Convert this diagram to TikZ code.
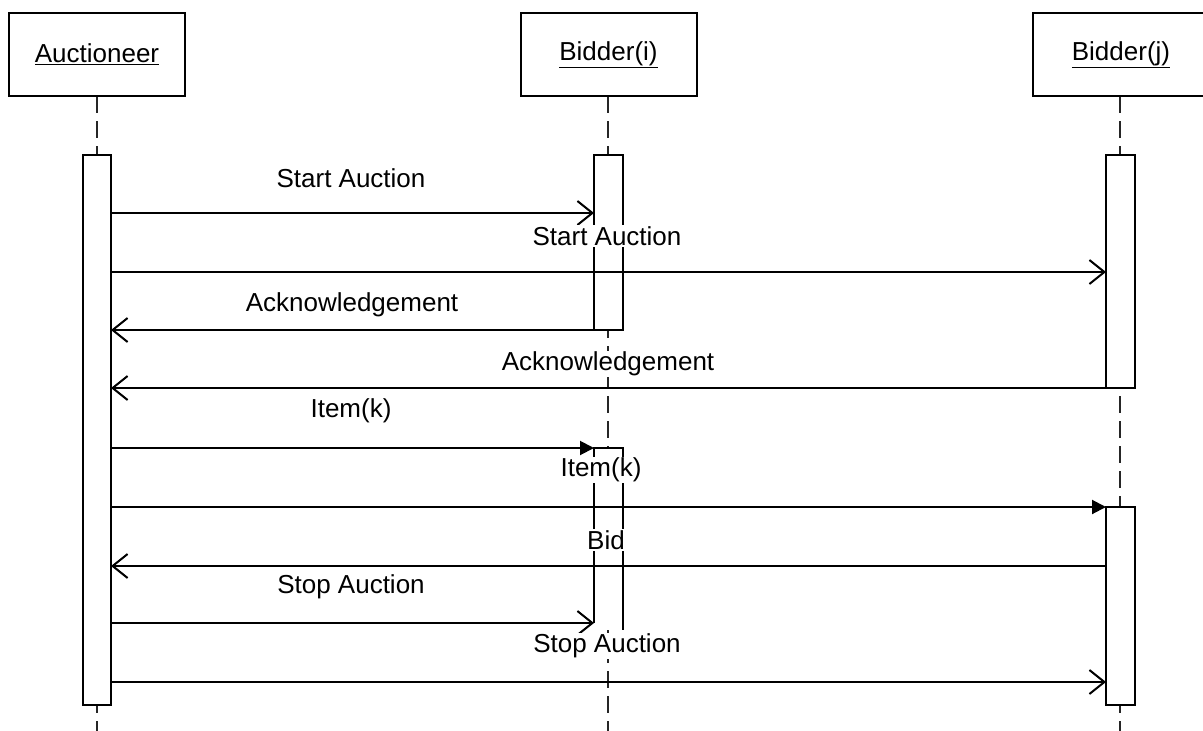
\documentclass[tikz,border=0pt]{standalone}
\usepackage{fontspec}
\setmainfont{Liberation Sans}
\usetikzlibrary{arrows.meta}
\begin{document}
\begin{tikzpicture}[x=1pt,y=-1pt,
  every node/.style={font=\fontsize{26}{30}\selectfont, inner sep=1pt},
  headbox/.style={draw, line width=2pt, minimum width=176pt, minimum height=83pt, fill=white},
  lifeline/.style={draw=black!85, line width=2pt, dash pattern=on 17pt off 8pt},
  actbar/.style={draw, line width=2pt, fill=white},
  msg/.style={line width=2pt, -{Straight Barb[length=15pt,width=24pt,line width=2pt]}},
  call/.style={line width=2pt, -{Triangle[length=14pt,width=14pt]}},
  lbl/.style={fill=white, inner sep=1pt}]
\useasboundingbox (0,0) rectangle (1203,731);
\clip (0,0) rectangle (1203,731);
\fill[white] (0,0) rectangle (1203,731);

% lifelines
\coordinate (la0) at (97,96);  \coordinate (la1) at (97,731);
\coordinate (li0) at (608,96); \coordinate (li1) at (608,731);
\coordinate (lj0) at (1120,96); \coordinate (lj1) at (1120,731);
\draw[lifeline] (la0) -- (la1);
\draw[lifeline] (li0) -- (li1);
\draw[lifeline] (lj0) -- (lj1);

% heads
\node[headbox] (hA) at (97,54.5) {\underline{Auctioneer}};
\node[headbox] (hI) at (608.5,54.5) {\underline{Bidder(i)}};
\node[headbox] (hJ) at (1121,54.5) {\underline{Bidder(j)}};

% activation bars
\draw[actbar] (83,155) rectangle (111,705);
\draw[actbar] (594,155) rectangle (623,330);
\draw[actbar] (1106,155) rectangle (1135,388);
\draw[actbar] (1106,507) rectangle (1135,705);
\fill[white] (594,448) rectangle (623,630);
\draw[line width=2pt] (594,623) -- (594,448) -- (623,448) -- (623,630);

% endpoints
\coordinate (a1) at (111,213); \coordinate (i1) at (594,213);
\coordinate (a2) at (111,272); \coordinate (j2) at (1106,272);
\coordinate (i3) at (594,330); \coordinate (a3) at (111,330);
\coordinate (j4) at (1106,388); \coordinate (a4) at (111,388);
\coordinate (a5) at (111,448); \coordinate (i5) at (594,448);
\coordinate (a6) at (111,507); \coordinate (j6) at (1106,507);
\coordinate (j7) at (1106,566); \coordinate (a7) at (111,566);
\coordinate (a8) at (111,623); \coordinate (i8) at (594,623);
\coordinate (a9) at (111,682); \coordinate (j9) at (1106,682);

% messages
\draw[msg] (a1) -- (i1);
\draw[msg] (a2) -- (j2);
\draw[msg] (i3) -- (a3);
\draw[msg] (j4) -- (a4);
\draw[call] (a5) -- (i5);
\draw[call] (a6) -- (j6);
\draw[msg] (j7) -- (a7);
\draw[msg] (a8) -- (i8);
\draw[msg] (a9) -- (j9);

% labels
\node[lbl] (t1) at (351,178) {Start Auction};
\node[lbl] (t2) at (607,236) {Start Auction};
\node[lbl] (t3) at (352,305) {Acknowledgement};
\node[lbl] (t4) at (608,364) {Acknowledgement};
\node[lbl] (t5) at (351,411) {Item(k)};
\node[lbl] (t6) at (601,470) {Item(k)};
\node[lbl] (t7) at (606,540) {Bid};
\node[lbl] (t8) at (351,587) {Stop Auction};
\node[lbl] (t9) at (607,646) {Stop Auction};
\end{tikzpicture}
\end{document}
